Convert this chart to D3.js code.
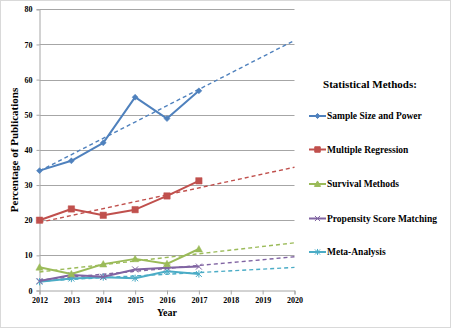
<!DOCTYPE html>
<html>
<head>
<meta charset="utf-8">
<script src="https://cdn.jsdelivr.net/npm/d3@7"></script>
<style>
  html, body { margin: 0; padding: 0; background: #fff; }
  svg { display: block; }
  text { font-family: "Liberation Serif", "Times New Roman", serif; font-weight: bold; fill: #000; }
</style>
</head>
<body>
<svg id="chart" width="451" height="328"></svg>
<script>
// Observed years and share of publications (%) per statistical method
const years = [2012, 2013, 2014, 2015, 2016, 2017];
const trendYears = [2012, 2020];
const sampleSize = [34.1, 36.9, 42.0, 55.0, 48.9, 56.8];
const multipleRegression = [20.0, 23.2, 21.4, 23.0, 26.9, 31.2];
const survivalMethods = [6.6, 4.7, 7.5, 9.0, 7.6, 11.8];
const propensityScore = [2.7, 4.4, 3.9, 6.0, 6.5, 6.8];
const metaAnalysis = [2.5, 3.4, 3.8, 3.5, 5.5, 4.7];
const seriesNames = ["Sample Size and Power", "Multiple Regression", "Survival Methods", "Propensity Score Matching", "Meta-Analysis"];
const yTicks = [0, 10, 20, 30, 40, 50, 60, 70, 80];
const xTicks = [2012, 2013, 2014, 2015, 2016, 2017, 2018, 2019, 2020];

const series = [
  { name: seriesNames[0], values: sampleSize, color: "#4F81BD", marker: "diamond" },
  { name: seriesNames[1], values: multipleRegression, color: "#C0504D", marker: "square" },
  { name: seriesNames[2], values: survivalMethods, color: "#9BBB59", marker: "triangle" },
  { name: seriesNames[3], values: propensityScore, color: "#8064A2", marker: "cross" },
  { name: seriesNames[4], values: metaAnalysis, color: "#4BACC6", marker: "star" }
];

const svg = d3.select("#chart");
// outer chart frame
svg.append("rect").attr("x", 0.5).attr("y", 0.5).attr("width", 450).attr("height", 327)
  .attr("fill", "#fff").attr("stroke", "#d9d9d9");

const plotLeft = 39.5, plotRight = 294.5, plotTop = 9.3, plotBottom = 290.5;
const x = d3.scaleLinear().domain([2012, 2020]).range([plotLeft, plotRight]);
const y = d3.scaleLinear().domain([0, 80]).range([plotBottom, plotTop]);

// horizontal gridlines
svg.append("g").selectAll("line").data(yTicks.filter(t => t > 0)).join("line")
  .attr("x1", plotLeft).attr("x2", plotRight)
  .attr("y1", d => Math.round(y(d)) + 0.5).attr("y2", d => Math.round(y(d)) + 0.5)
  .attr("stroke", "#a6a6a6").attr("stroke-width", 1);

// y axis
const yAxis = svg.append("g").attr("transform", `translate(${plotLeft},0)`)
  .call(d3.axisLeft(y).tickValues(yTicks).tickSize(3).tickPadding(4));
yAxis.select(".domain").attr("stroke", "#a6a6a6");
yAxis.selectAll(".tick line").attr("stroke", "#a6a6a6");
yAxis.selectAll(".tick text").attr("font-size", 8).attr("font-family", "Liberation Serif").attr("font-weight", "bold").attr("fill", "#000");

// x axis
const xAxis = svg.append("g").attr("transform", `translate(0,${plotBottom})`)
  .call(d3.axisBottom(x).tickValues(xTicks).tickFormat(d3.format("d")).tickSize(4).tickPadding(3));
xAxis.select(".domain").attr("stroke", "#a6a6a6");
xAxis.selectAll(".tick line").attr("stroke", "#a6a6a6");
xAxis.selectAll(".tick text").attr("font-size", 8).attr("font-family", "Liberation Serif").attr("font-weight", "bold").attr("fill", "#000");

// axis titles
svg.append("text").attr("x", 167).attr("y", 316).attr("text-anchor", "middle")
  .attr("font-size", 10).text("Year");
svg.append("text").attr("transform", "translate(18,150) rotate(-90)").attr("text-anchor", "middle")
  .attr("font-size", 11).text("Percentage of Publications");

// least-squares trend line, extended to 2020
function fit(vals) {
  const mx = d3.mean(years), my = d3.mean(vals);
  let sxy = 0, sxx = 0;
  years.forEach((yr, i) => { sxy += (yr - mx) * (vals[i] - my); sxx += (yr - mx) * (yr - mx); });
  const b = sxy / sxx, a = my - b * mx;
  return trendYears.map(yr => [yr, a + b * yr]);
}

const line = d3.line().x(d => x(d[0])).y(d => y(d[1]));

function markerPath(type, s) {
  switch (type) {
    case "diamond": return `M0,${-s}L${s},0L0,${s}L${-s},0Z`;
    case "square": return `M${-s},${-s}H${s}V${s}H${-s}Z`;
    case "triangle": return `M0,${-s}L${s},${s * 0.8}L${-s},${s * 0.8}Z`;
    case "cross": return `M${-s},${-s}L${s},${s}M${-s},${s}L${s},${-s}`;
    case "star": return `M${-s},${-s}L${s},${s}M${-s},${s}L${s},${-s}M0,${-s * 1.2}V${s * 1.2}`;
  }
}
const markerSize = { diamond: 3, square: 3.2, triangle: 3.6, cross: 3, star: 3 };

// trend lines first, then series on top (drawn from the bottom-most series)
series.slice().reverse().forEach(s => {
  svg.append("path").attr("d", line(fit(s.values)))
    .attr("fill", "none").attr("stroke", s.color).attr("stroke-width", 1.4)
    .attr("stroke-dasharray", "4,3");
});

series.slice().reverse().forEach(s => {
  const pts = years.map((yr, i) => [yr, s.values[i]]);
  svg.append("path").attr("d", line(pts))
    .attr("fill", "none").attr("stroke", s.color).attr("stroke-width", 2)
    .attr("stroke-linejoin", "round");
  const filled = ["diamond", "square", "triangle"].includes(s.marker);
  svg.append("g").selectAll("path").data(pts).join("path")
    .attr("transform", d => `translate(${x(d[0])},${y(d[1])})`)
    .attr("d", markerPath(s.marker, markerSize[s.marker]))
    .attr("fill", filled ? s.color : "none")
    .attr("stroke", s.color).attr("stroke-width", filled ? 0.5 : 1);
});

// legend
svg.append("text").attr("x", 370).attr("y", 88).attr("text-anchor", "middle")
  .attr("font-size", 11).text("Statistical Methods:");
const legendY = [116, 149.5, 184, 218.5, 252];
const lg = svg.append("g").selectAll("g").data(series).join("g")
  .attr("transform", (d, i) => `translate(0,${legendY[i]})`);
lg.append("line").attr("x1", 309).attr("x2", 326).attr("y1", 0).attr("y2", 0)
  .attr("stroke", d => d.color).attr("stroke-width", 2);
lg.append("path").attr("transform", "translate(317.5,0)")
  .attr("d", d => markerPath(d.marker, markerSize[d.marker] * 0.85))
  .attr("fill", d => ["diamond", "square", "triangle"].includes(d.marker) ? d.color : "none")
  .attr("stroke", d => d.color).attr("stroke-width", 1);
lg.append("text").attr("x", 327).attr("y", 3.2).attr("font-size", 9.5).text(d => d.name);
</script>
</body>
</html>
